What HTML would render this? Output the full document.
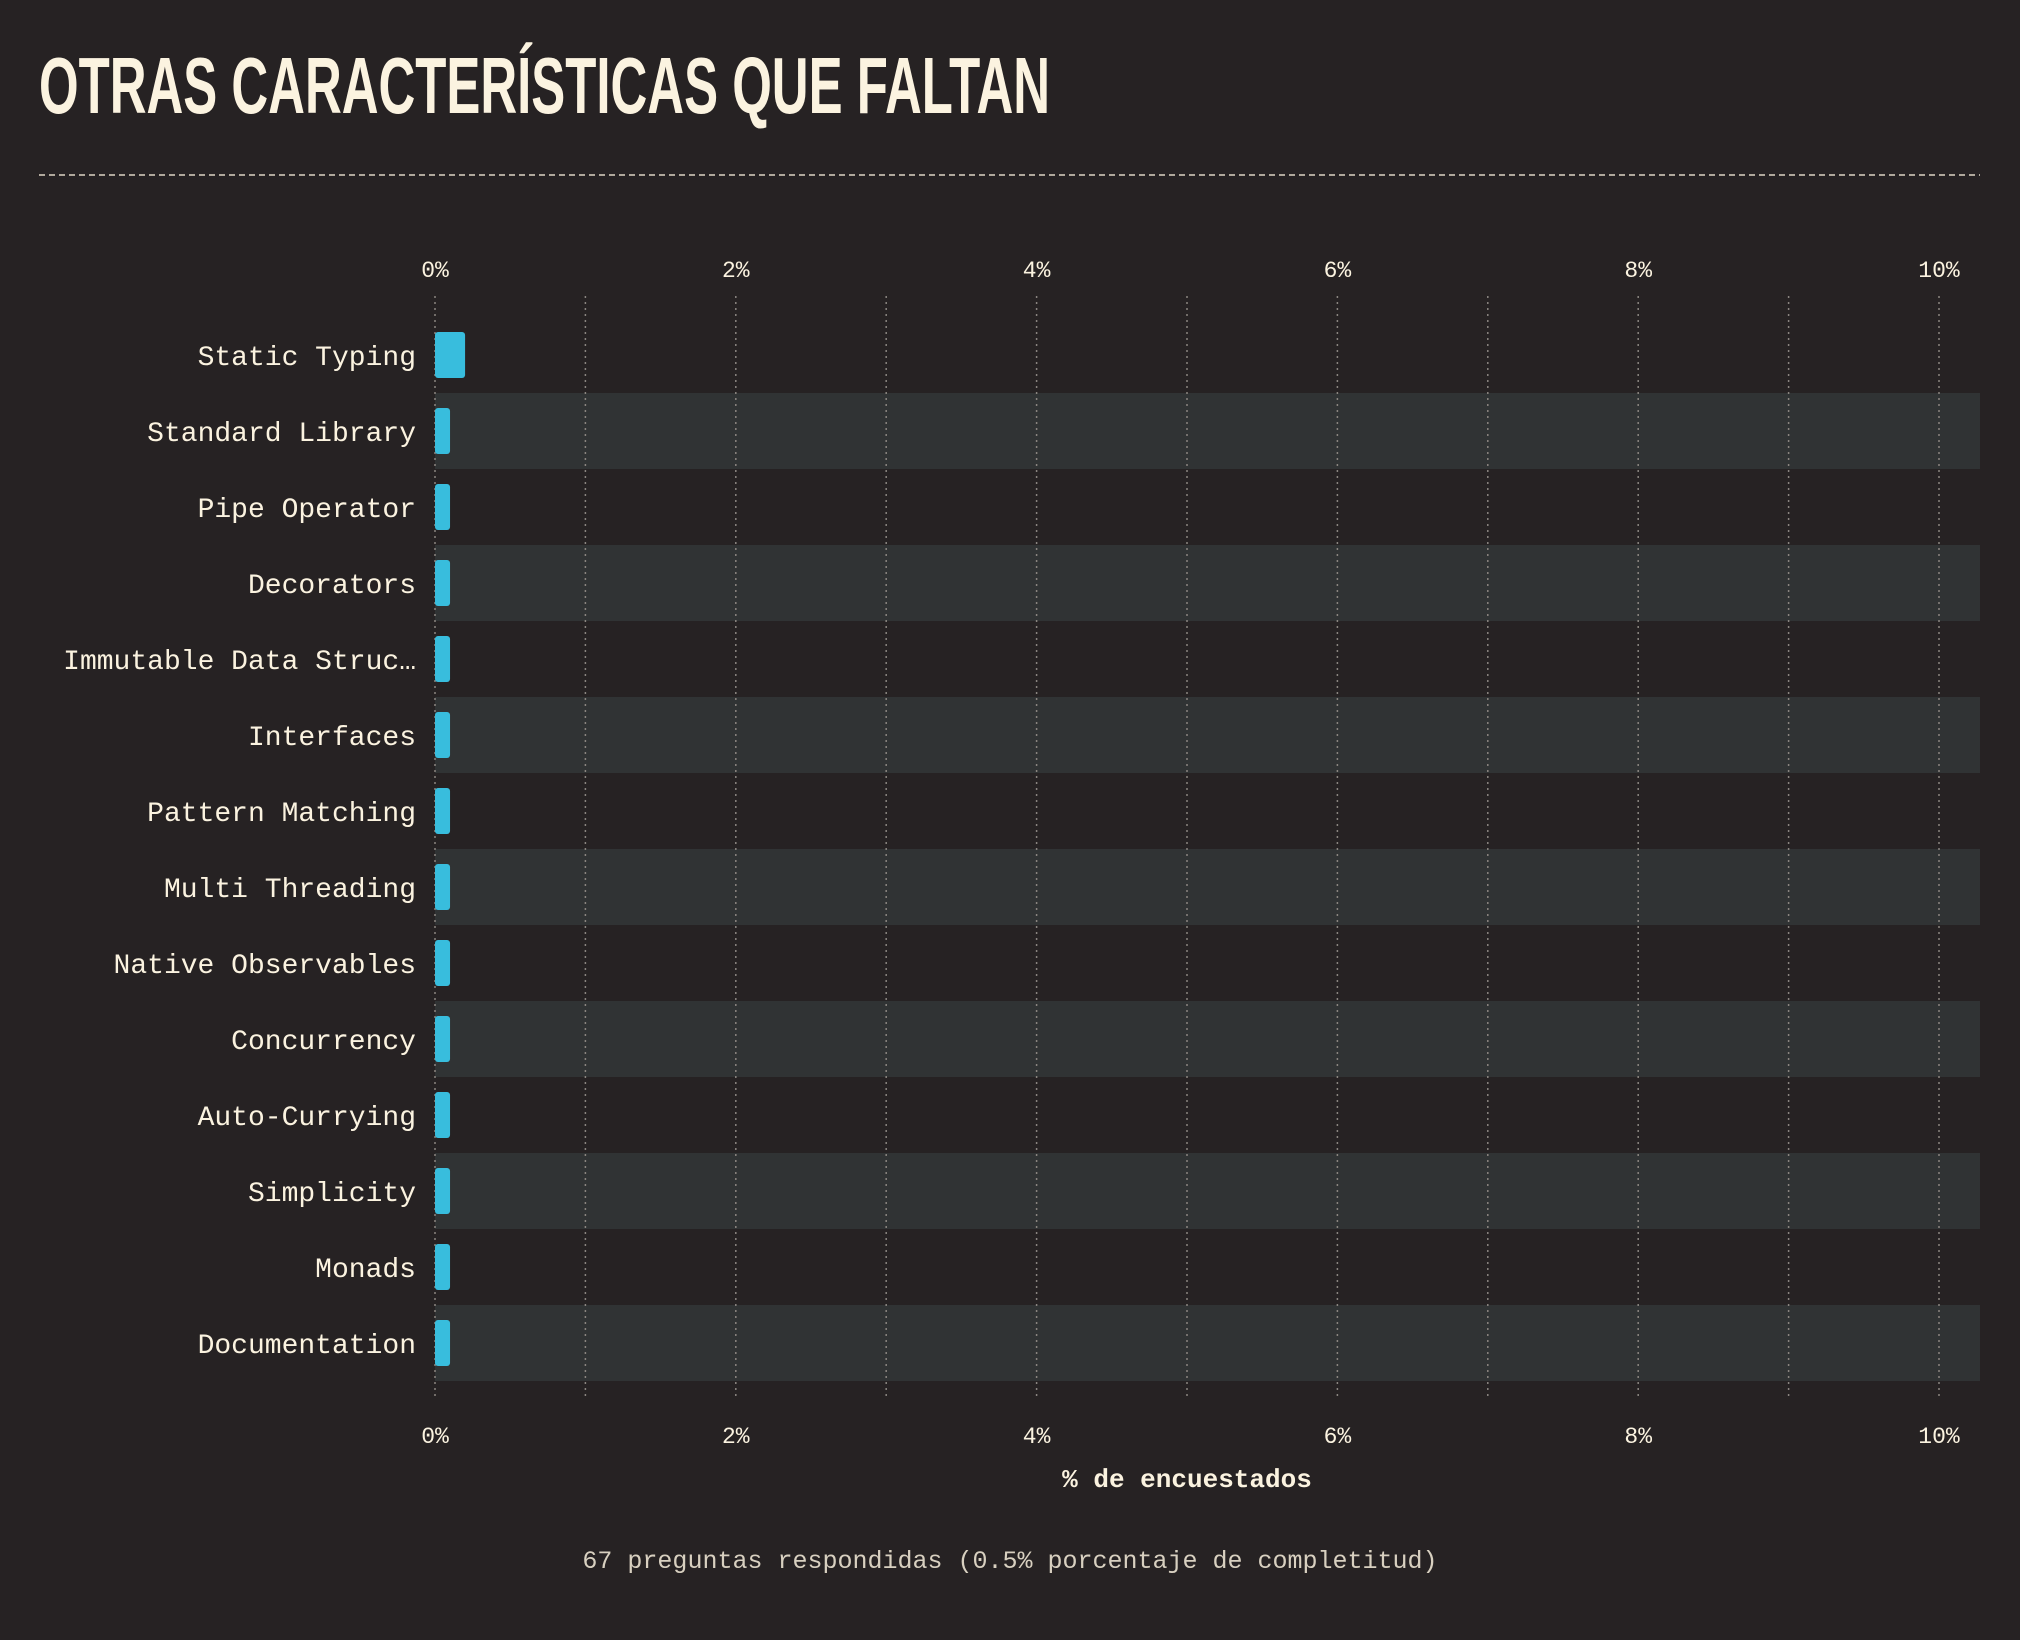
<!DOCTYPE html>
<html><head><meta charset="utf-8"><style>
html,body{margin:0;padding:0;background:#262223;}
svg{display:block}
</style></head><body>
<svg id="chart" width="2020" height="1640" xmlns="http://www.w3.org/2000/svg">
<rect width="2020" height="1640" fill="#262223"/>
<text x="39" y="113" font-family="Liberation Sans, sans-serif" font-weight="bold" font-size="80" fill="#fbf3e0" textLength="1011" lengthAdjust="spacingAndGlyphs">OTRAS CARACTERÍSTICAS QUE FALTAN</text>
<line x1="39" y1="175" x2="1980" y2="175" stroke="#ddd5c5" stroke-width="1.5" stroke-dasharray="6,4"/>
<g id="bands"></g><g id="grid"></g><g id="bars"></g><g id="labels"></g><g id="ticks"></g>
<text x="1187" y="1487" text-anchor="middle" font-family="Liberation Mono, monospace" font-weight="bold" font-size="26" fill="#fbf3e0">% de encuestados</text>
<text x="1010" y="1568" text-anchor="middle" font-family="Liberation Mono, monospace" font-size="25" fill="#d8d0c0">67 preguntas respondidas (0.5% porcentaje de completitud)</text>
</svg>
<script>
const categories=["Static Typing","Standard Library","Pipe Operator","Decorators","Immutable Data Struc…","Interfaces","Pattern Matching","Multi Threading","Native Observables","Concurrency","Auto-Currying","Simplicity","Monads","Documentation"];
const values=[0.2,0.1,0.1,0.1,0.1,0.1,0.1,0.1,0.1,0.1,0.1,0.1,0.1,0.1];
const tickValues=[0,2,4,6,8,10];
const tickLabels=["0%","2%","4%","6%","8%","10%"];
const gridValues=[0,1,2,3,4,5,6,7,8,9,10];
const NS="http://www.w3.org/2000/svg";
const x0=435,pxPer=150.4,topY=317,step=76,plotRight=1980;
const xs=v=>x0+v*pxPer;
const ys=i=>topY+i*step;
function mk(tag,attrs,parent){const e=document.createElementNS(NS,tag);for(const k in attrs)e.setAttribute(k,attrs[k]);document.getElementById(parent).appendChild(e);return e;}
categories.forEach((c,i)=>{
  if(i%2===1){const b=mk('rect',{x:x0,y:ys(i),width:plotRight-x0,height:step,fill:'#303334'},'bands');
    
    }
  const r=mk('rect',{x:x0,y:ys(i)+15,width:xs(values[i])-x0,height:46,rx:3,fill:'#38bddd'},'bars');
  
  
  const t=mk('text',{x:416,y:ys(i)+48,'text-anchor':'end','font-family':'Liberation Mono, monospace','font-size':'28',fill:'#fbf3e0'},'labels');
  t.textContent=c;
  
  
});
gridValues.forEach(v=>{
  const l=mk('line',{x1:xs(v),x2:xs(v),y1:296,y2:1398,stroke:'#8a8580','stroke-width':'1.5','stroke-dasharray':'2,4'},'grid');
  
  
});
tickValues.forEach((v,i)=>{
  [277,1443].forEach(y=>{
    const t=mk('text',{x:xs(v),y:y,'text-anchor':'middle','font-family':'Liberation Mono, monospace','font-size':'23',fill:'#fbf3e0'},'ticks');
    t.textContent=tickLabels[i];
    
    
  });
});
</script>
</body></html>
